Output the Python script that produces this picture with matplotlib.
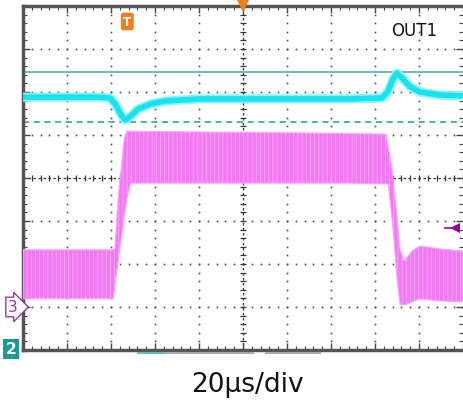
import numpy as np
import matplotlib
matplotlib.use("Agg")
import matplotlib.pyplot as plt
from matplotlib.ticker import MultipleLocator
from matplotlib.patches import Polygon

# scope units: 10 x 8 divisions, centre = (0, 0)
cyan_x = [-5.0, -4.16, -3.25, -3.02, -2.89, -2.77, -2.68, -2.57, -2.39, -2.11, -1.77,
          -0.98, 0.16, 1.30, 2.43, 3.16, 3.30, 3.41, 3.50, 3.64, 3.80, 4.02, 4.48, 5.0]
cyan_y = [1.88, 1.88, 1.88, 1.86, 1.70, 1.47, 1.35, 1.42, 1.60, 1.72, 1.79,
          1.84, 1.84, 1.84, 1.84, 1.86, 2.02, 2.30, 2.44, 2.30, 2.12, 2.00, 1.93, 1.91]

# outline of the noisy magenta band (clockwise)
mag_x = [-5.0, -4.16, -2.98, -2.91, -2.84, -2.77, -2.70, -2.64, -0.98, 1.30, 3.25,
         3.39, 3.48, 3.57, 3.66, 3.84, 4.02, 4.48, 5.0,
         5.0, 4.48, 4.02, 3.68, 3.57, 3.50, 3.43, 3.34, 3.30, 2.43, -0.98, -2.55,
         -2.64, -2.80, -2.95, -4.16, -5.0]
mag_y = [-1.67, -1.67, -1.67, -1.65, -0.49, 0.21, 0.91, 1.09, 1.07, 1.05, 1.02,
         0.21, -0.72, -1.65, -1.93, -1.70, -1.58, -1.65, -1.70,
         -2.88, -2.86, -2.81, -2.95, -2.95, -2.35, -1.42, -0.49, -0.14, -0.12, -0.12, -0.12,
         -0.49, -1.65, -2.81, -2.81, -2.81]

cursor_solid = 2.47
cursor_dashed = 1.30
trig_level = -1.16
trig_pos = -2.63

plt.rcParams["hatch.linewidth"] = 0.6

fig = plt.figure(figsize=(4.63, 4.02), dpi=100)
ax = fig.add_axes([23 / 463, 1 - 351 / 402, 440 / 463, 344 / 402])
ax.set_xlim(-5, 5)
ax.set_ylim(-4, 4)

# graticule dots
grid_col = "#4a4a4a"
steps = np.arange(-5, 5.01, 0.2)
vsteps = np.arange(-4, 4.01, 0.2)
for gx in range(-4, 5):
    if gx == 0:
        continue
    ax.plot(np.full_like(vsteps, gx), vsteps, ls="none", marker="s", ms=1.2,
            color=grid_col, mew=0, zorder=1)
for gy in range(-3, 4):
    if gy == 0:
        continue
    ax.plot(steps, np.full_like(steps, gy), ls="none", marker="s", ms=1.2,
            color=grid_col, mew=0, zorder=1)

# centre cross with small ticks
ax.plot(steps, np.zeros_like(steps), ls=(0, (2, 2)), lw=0.9, color="#333333",
        marker="|", ms=5, mew=0.9, zorder=1)
ax.plot(np.zeros_like(vsteps), vsteps, ls=(0, (2, 2)), lw=0.9, color="#333333",
        marker="_", ms=5, mew=0.9, zorder=1)

# cursors
ax.axhline(cursor_solid, color="#4aa6a6", lw=1.1, zorder=2)
ax.axhline(cursor_dashed, color="#23999a", lw=1.1, ls=(0, (4, 3)), zorder=2)

# magenta channel (striped, noisy look)
ax.add_patch(Polygon(np.column_stack([mag_x, mag_y]), closed=True,
                     facecolor="#f378f3", edgecolor="#f9a8f9", lw=0.8,
                     hatch="||||", zorder=3))

# cyan channel
ax.plot(cyan_x, cyan_y, color="#8af4f8", lw=6.5, solid_capstyle="butt", zorder=4)
ax.plot(cyan_x, cyan_y, color="#18e2ee", lw=4, solid_capstyle="butt", zorder=5)

# frame
for side in ["left", "top", "bottom"]:
    ax.spines[side].set_color("#555555")
    ax.spines[side].set_linewidth(2.5)
ax.spines["right"].set_visible(False)
ax.xaxis.set_major_locator(MultipleLocator(1))
ax.xaxis.set_minor_locator(MultipleLocator(0.2))
ax.yaxis.set_major_locator(MultipleLocator(1))
ax.yaxis.set_minor_locator(MultipleLocator(0.2))
ax.tick_params(which="both", direction="in", top=True, right=True,
               labelbottom=False, labelleft=False, color="#444444")
ax.tick_params(which="major", length=5, width=1)
ax.tick_params(which="minor", length=3, width=0.8)

# trigger markers
ax.plot([0], [4], marker="v", ms=9, color="#f07f1a", mew=0, clip_on=False, zorder=6)
ax.text(trig_pos, 3.64, "T", ha="center", va="center", color="white", fontsize=8.5,
        fontweight="bold", zorder=7,
        bbox=dict(boxstyle="round,pad=0.2", fc="#f07f1a", ec="none"))
ax.plot([4.82], [trig_level], marker="<", ms=7, color="#990099", mew=0, zorder=6)
ax.plot([4.6, 4.92], [trig_level, trig_level], color="#990099", lw=1.2, zorder=6)

ax.text(3.88, 3.45, "OUT1", ha="center", va="center", fontsize=12, color="#111111")

# channel ground markers
fig.text(13 / 463, 1 - 308 / 402, "3", ha="center", va="center", fontsize=11,
         color="#a030a0",
         bbox=dict(boxstyle="rarrow,pad=0.15", fc="white", ec="#a030a0", lw=1))
fig.text(11 / 463, 1 - 350 / 402, "2", ha="center", va="center", fontsize=11,
         color="white", fontweight="bold",
         bbox=dict(boxstyle="square,pad=0.15", fc="#1a9a96", ec="none"))

# small status bars under the graticule
fig.add_artist(plt.Line2D([138 / 463, 164 / 463], [1 - 354 / 402] * 2, color="#5fbcbc", lw=1.5))
fig.add_artist(plt.Line2D([166 / 463, 253 / 463], [1 - 354 / 402] * 2, color="#aaaaaa", lw=1.5))
fig.add_artist(plt.Line2D([266 / 463, 320 / 463], [1 - 354 / 402] * 2, color="#aaaaaa", lw=1.5))

fig.text(247 / 463, 1 - 385 / 402, "20µs/div", ha="center", va="center",
         fontsize=19, color="#111111")

fig.savefig("out.png", dpi=100)
